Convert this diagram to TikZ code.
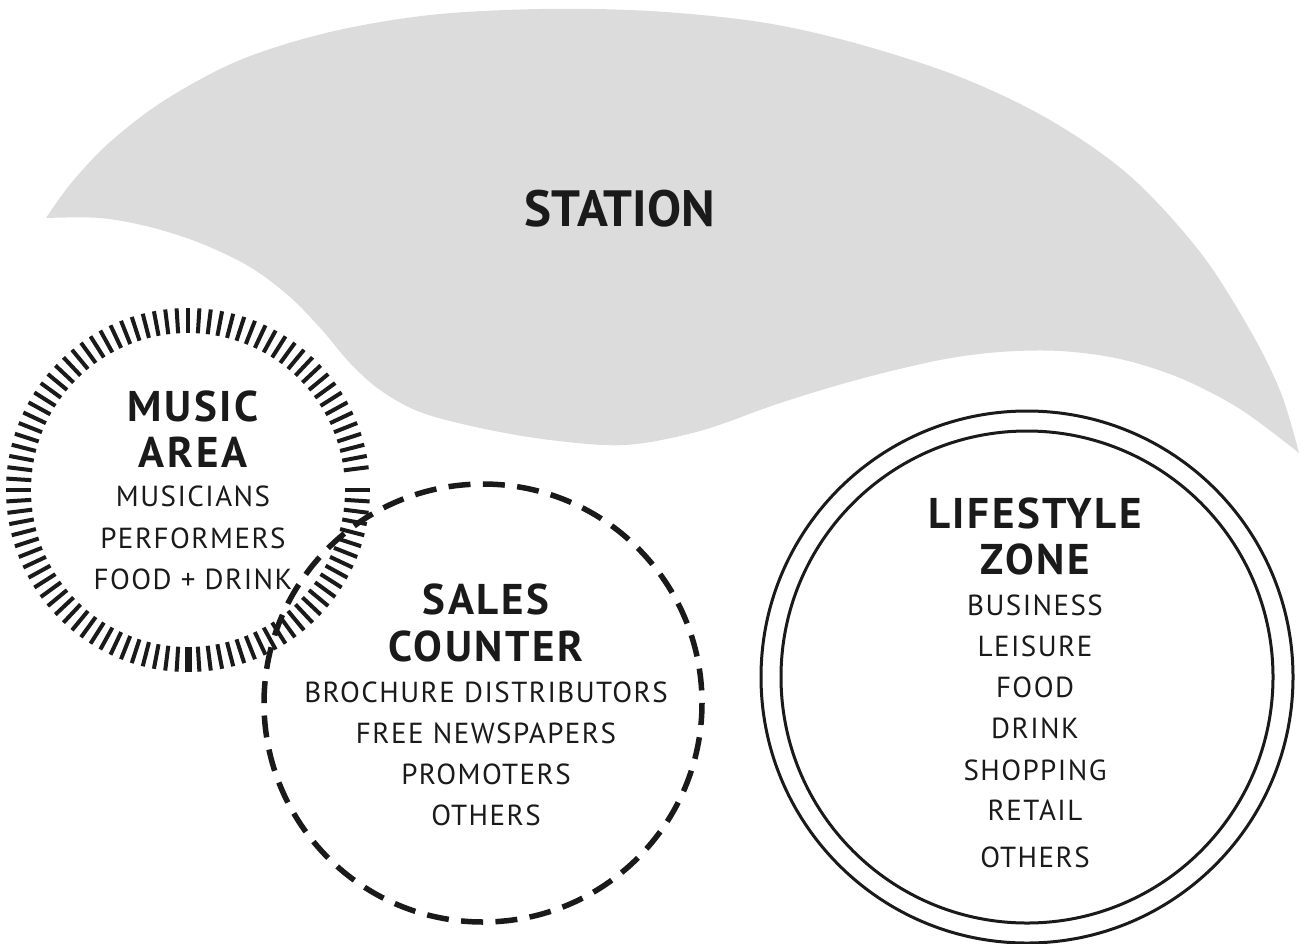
\documentclass[tikz,border=0pt]{standalone}
\usepackage{fontspec}
\setmainfont{PT Sans}
\newfontfamily\titlefont[LetterSpace=6]{PT Sans}
\newfontfamily\itemfont[LetterSpace=5]{PT Sans}
\definecolor{ink}{HTML}{1A1A1A}
\definecolor{stationgray}{HTML}{DCDCDC}
\begin{document}
\begin{tikzpicture}[x=1pt,y=-1pt,
  bigtitle/.style={font=\fontsize{51}{51}\selectfont\bfseries, text=ink, anchor=base, inner sep=0pt},
  title/.style={font=\titlefont\fontsize{43}{43}\selectfont\bfseries, text=ink, anchor=base, inner sep=0pt},
  item/.style={font=\itemfont\fontsize{29}{29}\selectfont, text=ink, anchor=base, inner sep=0pt},
  tickmark/.style={line width=4pt, draw=ink},
  dashring/.style={line width=5.5pt, draw=ink, dash pattern=on 22pt off 12.4pt},
  ring/.style={line width=3pt, draw=ink}]
\useasboundingbox (0,0) rectangle (1308,943);

% station area
\fill[stationgray]
  plot[smooth, tension=0.55] coordinates {(46,218) (72,182) (110,142) (165,100) (240,60) (330,32) (430,15) (540,9) (650,11) (760,22) (855,43) (960,77) (1050,120) (1130,176) (1200,252) (1250,330) (1281,393) (1299,453)}
  -- plot[smooth, tension=0.55] coordinates {(1299,453) (1240,409) (1180,378) (1120,359) (1060,351) (1000,352) (940,360) (860,379) (780,403) (700,431) (625,445) (550,440) (480,428) (420,412) (380,390) (350,363) (322,330) (290,297) (250,267) (200,243) (150,227) (100,218) (46,218)}
  -- cycle;
\node[bigtitle] (st) at (620,226) {STATION};

% music area: ring of ticks
\begin{scope}[shift={(188,490)}]
  \foreach \a in {0,3.6,...,356.4}
    \draw[tickmark] (\a:157) -- (\a:182);
  \draw[tickmark, line width=7pt] (90:157) -- (90:182);
\end{scope}
\node[title] (mu1) at (193,421) {MUSIC};
\node[title] (mu2) at (193,467) {AREA};
\node[item] (mu3) at (193,506) {MUSICIANS};
\node[item] (mu4) at (193,548) {PERFORMERS};
\node[item] (mu5) at (193,589) {FOOD + DRINK};

% sales counter: dashed ring
\draw[dashring] (483,703) circle[radius=219];
\node[title] (sa1) at (486,614) {SALES};
\node[title] (sa2) at (486,661) {COUNTER};
\node[item] (sa3) at (486,702) {BROCHURE DISTRIBUTORS};
\node[item] (sa4) at (486,743) {FREE NEWSPAPERS};
\node[item] (sa5) at (486,784) {PROMOTERS};
\node[item] (sa6) at (486,825) {OTHERS};

% lifestyle zone: double ring
\draw[ring] (1027,677) circle[radius=266];
\draw[ring] (1027,677) circle[radius=246];
\node[title] (li1) at (1035,528) {LIFESTYLE};
\node[title] (li2) at (1035,574) {ZONE};
\node[item] (li3) at (1035,615) {BUSINESS};
\node[item] (li4) at (1035,656) {LEISURE};
\node[item] (li5) at (1035,697) {FOOD};
\node[item] (li6) at (1035,738) {DRINK};
\node[item] (li7) at (1035,780) {SHOPPING};
\node[item] (li8) at (1035,820) {RETAIL};
\node[item] (li9) at (1035,867) {OTHERS};
\end{tikzpicture}
\end{document}
